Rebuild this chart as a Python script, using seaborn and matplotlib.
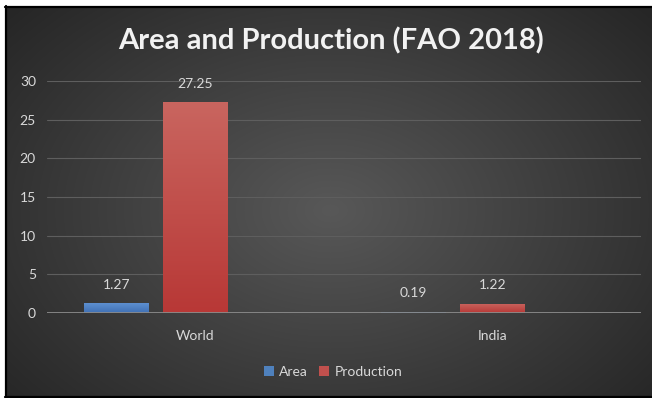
import numpy as np
import pandas as pd
import matplotlib
matplotlib.use("Agg")
import matplotlib.pyplot as plt
import seaborn as sns
from matplotlib.colors import LinearSegmentedColormap
from matplotlib.patches import Rectangle, Patch
from matplotlib.lines import Line2D

# ---- data ----
categories = ["World", "India"]
area = [1.27, 0.19]
production = [27.25, 1.22]
series = ["Area", "Production"]
yticks = [0, 5, 10, 15, 20, 25, 30]
title = "Area and Production (FAO 2018)"

df = pd.DataFrame({
    "Region": categories * 2,
    "Series": [series[0]] * len(categories) + [series[1]] * len(categories),
    "Value": area + production,
})

sns.set_theme(style="dark")
plt.rcParams['font.family'] = ['Lato', 'DejaVu Sans']

W, H = 652, 398
fig = plt.figure(figsize=(W / 100, H / 100), dpi=100)

# ---- background radial gradient ----
bg = fig.add_axes([0, 0, 1, 1], zorder=-10)
yy, xx = np.mgrid[0:H, 0:W]
r = np.sqrt(((xx - 330) / 430.0) ** 2 + ((yy - 210) / 300.0) ** 2)
v = (88 - 50 * np.clip(r, 0, 1)) / 255.0
img = np.dstack([v, v, v])
bg.imshow(img, extent=(0, W, H, 0), aspect="auto", interpolation="bilinear")
bg.set_xlim(0, W)
bg.set_ylim(H, 0)
bg.axis("off")
# white margins and black frame
bg.add_patch(Rectangle((0, 0), W, 6, color="white", zorder=5))
bg.add_patch(Rectangle((0, 0), 5, H, color="white", zorder=5))
bg.add_line(Line2D([5, W], [6.5, 6.5], color="black", lw=1.6, zorder=6))
bg.add_line(Line2D([5.8, 5.8], [6, H], color="black", lw=1.6, zorder=6))
bg.add_line(Line2D([5, W], [396.5, 396.5], color="black", lw=1.6, zorder=6))

# ---- main axes ----
ax = fig.add_axes([47 / W, (H - 313) / H, (641 - 47) / W, (313 - 81) / H])
ax.patch.set_alpha(0)

palette = {"Area": "#4f81bd", "Production": "#c0504d", "_": "#000000"}
sns.barplot(data=df, x="Region", y="Value", hue="Series",
            hue_order=["Area", "Production", "_"], order=categories,
            palette=palette, width=0.8, gap=0.18, saturation=1,
            legend=False, ax=ax, zorder=3, linewidth=0, edgecolor="none")

ax.set_ylim(0, 30)
ax.set_xlim(-0.5, 1.5)

# gradient fill for bars
grads = {
    "Area": LinearSegmentedColormap.from_list("b", ["#3f70b4", "#5d8fd0"]),
    "Production": LinearSegmentedColormap.from_list("r", ["#b83836", "#c9655f"]),
}
for cont, name in zip(ax.containers, series):
    for rect in cont:
        x0, w, h = rect.get_x(), rect.get_width(), rect.get_height()
        if h <= 0:
            continue
        grad = np.linspace(0, 1, 100).reshape(-1, 1)
        im = ax.imshow(grad, extent=(x0, x0 + w, 0, h), origin="lower",
                       cmap=grads[name], aspect="auto", zorder=4)
        im.set_clip_path(rect)
    ax.bar_label(cont, fmt="%.2f", padding=9, color="#d9d9d9", fontsize=10)

ax.set_ylim(0, 30)
ax.set_xlim(-0.5, 1.5)

ax.set_yticks(yticks)
ax.yaxis.grid(True, color="#5e5e5e", lw=0.8, zorder=0)
ax.xaxis.grid(False)
ax.axhline(0, color="#8a8a8a", lw=1.3, zorder=5)
for s in ax.spines.values():
    s.set_visible(False)
ax.tick_params(axis="y", colors="#d9d9d9", length=0, labelsize=10, pad=8)
ax.tick_params(axis="x", colors="#d9d9d9", length=0, labelsize=10, pad=12)
ax.set_xlabel("")
ax.set_ylabel("")

# ---- title ----
fig.text(331 / W, 1 - 41 / H, title, ha="center", va="center",
         fontsize=21, fontweight="bold", color="#f2f2f2")

# ---- legend ----
handles = [Patch(facecolor=palette[s], edgecolor="none") for s in series]
fig.legend(handles, series, loc="center", bbox_to_anchor=(333 / W, 1 - 372 / H),
           ncol=2, frameon=False, handlelength=0.7, handleheight=0.7,
           columnspacing=0.8, handletextpad=0.4, labelcolor="#d9d9d9",
           fontsize=10)

fig.savefig("out.png", dpi=100)
